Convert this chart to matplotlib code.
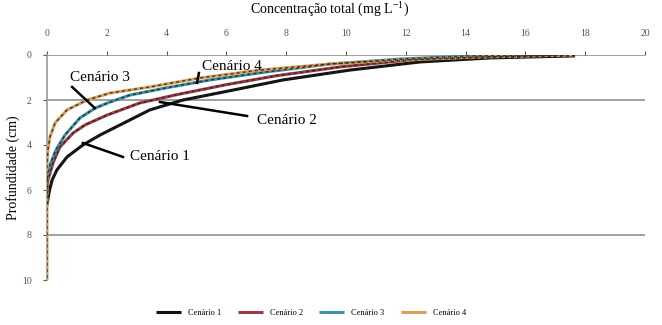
import matplotlib
matplotlib.use("Agg")
import matplotlib.pyplot as plt

# ---- data (concentration mg/L vs depth cm) ----
c1_x = [17.66, 14.82, 12.47, 10.13, 7.89, 6.22, 4.55, 3.44, 2.44, 1.77, 1.20, 0.67, 0.33, 0.17, 0.07, 0.0]
c1_y = [0.04, 0.13, 0.31, 0.67, 1.11, 1.56, 2.00, 2.44, 3.11, 3.56, 4.00, 4.53, 5.11, 5.56, 6.09, 6.67]

c2_x = [17.32, 14.48, 12.14, 9.80, 7.63, 5.95, 4.28, 3.11, 2.01, 1.27, 0.87, 0.43, 0.20, 0.03, 0.0]
c2_y = [0.00, 0.09, 0.22, 0.53, 0.93, 1.33, 1.78, 2.13, 2.67, 3.11, 3.47, 4.09, 4.80, 5.56, 6.22]

c3_x = [16.99, 14.15, 11.81, 9.46, 7.29, 5.45, 3.95, 2.78, 2.11, 1.61, 1.10, 0.60, 0.30, 0.10, 0.0]
c3_y = [0.00, 0.04, 0.18, 0.40, 0.76, 1.11, 1.47, 1.78, 2.09, 2.36, 2.80, 3.56, 4.22, 4.89, 5.56]

c4_x = [17.66, 14.48, 11.81, 9.46, 7.12, 5.12, 3.44, 2.11, 1.34, 0.67, 0.27, 0.10, 0.03, 0.0, 0.0]
c4_y = [0.00, 0.09, 0.22, 0.40, 0.67, 1.02, 1.42, 1.69, 2.00, 2.44, 3.02, 3.64, 4.22, 4.89, 10.0]

series_names = ["Cenário 1", "Cenário 2", "Cenário 3", "Cenário 4"]
x_ticks = [0, 2, 4, 6, 8, 10, 12, 14, 16, 18, 20]
y_ticks = [0, 2, 4, 6, 8, 10]

colors = ["#111111", "#9b3b45", "#3f8fa6", "#d9a25a"]

serif = ["Liberation Serif", "DejaVu Serif"]

fig = plt.figure(figsize=(6.62, 3.25), dpi=100)
ax = fig.add_axes([47 / 662, 1 - 280 / 325, 598 / 662, 225 / 325])

xs = [c1_x, c2_x, c3_x, c4_x]
ys = [c1_y, c2_y, c3_y, c4_y]

# gridlines visible in reference
for gy in [0, 2, 8]:
    ax.axhline(gy, color="#a0a0a0", lw=1.4, zorder=1)

handles = []
for x, y, c, n in zip(xs, ys, colors, series_names):
    h, = ax.plot(x, y, color=c, lw=2.2, zorder=3, label=n, solid_capstyle="butt")
    ax.plot(x, y, color="#222222", lw=1.1, dashes=(2, 2), zorder=4, alpha=0.8)
    handles.append(h)

ax.set_xlim(0, 20)
ax.set_ylim(10, 0)
ax.xaxis.tick_top()
ax.xaxis.set_label_position("top")
ax.set_xticks(x_ticks)
ax.set_yticks(y_ticks)
ax.tick_params(axis="both", labelsize=7, colors="#555555", length=3, width=0.8)
for lab in ax.get_xticklabels() + ax.get_yticklabels():
    lab.set_family(serif)
ax.xaxis.set_tick_params(pad=9)
ax.yaxis.set_tick_params(pad=8)

for s in ["top", "right", "bottom"]:
    ax.spines[s].set_visible(False)
ax.spines["left"].set_color("#999999")
ax.spines["left"].set_linewidth(1.2)

ax.set_xlabel("Concentração total (mg L$^{\\mathregular{-1}}$)", family=serif, fontsize=10)
ax.xaxis.set_label_coords((330 - 47) / 598, 1 + (55 - 13) / 225)
ax.set_ylabel("Profundidade (cm)", family=serif, fontsize=10)
ax.yaxis.set_label_coords(-(47 - 20) / 598, 0.5)

# annotations
kw = dict(color="black", lw=1.8, zorder=6)
ax.plot([1.20, 2.54], [3.91, 4.53], **kw)
ax.text(2.78, 4.53, "Cenário 1", family=serif, fontsize=11, va="center", ha="left")
ax.plot([3.78, 6.69], [2.09, 2.71], **kw)
ax.text(7.02, 2.89, "Cenário 2", family=serif, fontsize=11, va="center", ha="left")
ax.plot([0.84, 1.60], [1.42, 2.36], **kw)
ax.text(1.77, 1.02, "Cenário 3", family=serif, fontsize=11, va="center", ha="center")
ax.plot([5.08, 5.02], [0.80, 1.24], **kw)
ax.text(5.18, 0.53, "Cenário 4", family=serif, fontsize=11, va="center", ha="left")

leg = fig.legend(handles=handles, labels=series_names, loc="center",
                 bbox_to_anchor=(0.47, 1 - 313 / 325), ncol=4, frameon=False,
                 handlelength=3, columnspacing=2.0,
                 prop={"family": serif, "size": 6})

fig.savefig("out.png", dpi=100)
